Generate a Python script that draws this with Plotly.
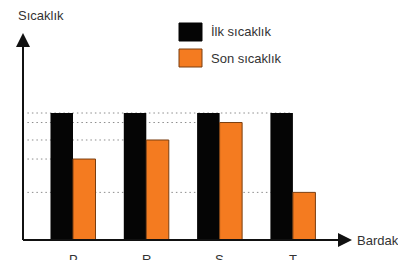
import plotly.graph_objects as go

categories = ["P", "R", "S", "T"]
ilk_sicaklik = [80, 80, 80, 80]
son_sicaklik = [51, 63, 74, 30]

series_names = ["İlk sıcaklık", "Son sıcaklık"]
y_title = "Sıcaklık"
x_title = "Bardak"

BLACK = "#050505"
ORANGE = "#F47B20"
ORANGE_EDGE = "#7A3E10"
TEXT = "#333333"

fig = go.Figure()
fig.add_trace(go.Bar(x=categories, y=ilk_sicaklik, name=series_names[0],
                     marker=dict(color=BLACK, line=dict(width=0)), showlegend=False))
fig.add_trace(go.Bar(x=categories, y=son_sicaklik, name=series_names[1],
                     marker=dict(color=ORANGE, line=dict(color=ORANGE_EDGE, width=1)), showlegend=False))

x_range = [-0.682, 3.806]
y_range = [0, 130.4]

# dotted guide lines: from the y axis to the bar they refer to
guides = []
for i, v in enumerate(son_sicaklik):
    guides.append((v, i))
guides.append((max(ilk_sicaklik), len(categories) - 1))
for v, idx in guides:
    fig.add_shape(type="line", xref="x", yref="y", x0=x_range[0] + 0.06, x1=idx,
                  y0=v, y1=v, layer="below",
                  line=dict(color="#8c8c8c", width=1, dash="1.5px,3px"))

# axes with arrows
fig.add_shape(type="line", xref="paper", yref="paper", x0=0, x1=0, y0=0, y1=0.96,
              line=dict(color="#111111", width=2))
fig.add_shape(type="line", xref="paper", yref="paper", x0=0, x1=0.96, y0=0, y1=0,
              line=dict(color="#111111", width=2))
fig.add_annotation(xref="paper", yref="paper", x=0, y=1, ax=0, ay=12,
                   text="", showarrow=True, arrowhead=2, arrowsize=1.4,
                   arrowwidth=2, arrowcolor="#111111")
fig.add_annotation(xref="paper", yref="paper", x=1, y=0, ax=-12, ay=0,
                   text="", showarrow=True, arrowhead=2, arrowsize=1.4,
                   arrowwidth=2, arrowcolor="#111111")

fig.add_annotation(xref="paper", yref="paper", x=-0.02, y=1, yshift=18,
                   text=y_title, showarrow=False, xanchor="left", yanchor="middle",
                   font=dict(size=13, color=TEXT))
fig.add_annotation(xref="paper", yref="paper", x=1, y=0, xshift=3,
                   text=x_title, showarrow=False, xanchor="left", yanchor="middle",
                   font=dict(size=13, color=TEXT))

# category labels
for c in categories:
    fig.add_annotation(xref="x", yref="paper", x=c, y=0, yshift=-10,
                       text=c, showarrow=False, xanchor="center", yanchor="top",
                       font=dict(size=13, color=TEXT))

# legend drawn manually
legend_colors = [(BLACK, None), (ORANGE, ORANGE_EDGE)]
for k, (name, (col, edge)) in enumerate(zip(series_names, legend_colors)):
    fig.add_shape(type="rect", xref="paper", yref="paper",
                  x0=(179 - 23) / 329, x1=(202 - 23) / 329,
                  y0=(260 - 41 - k * 26 - 20) / 207, y1=(260 - 23 - k * 26 - 20) / 207,
                  fillcolor=col, line=dict(color=edge if edge else col, width=1))
    fig.add_annotation(xref="paper", yref="paper", x=(209 - 23) / 329,
                       y=(260 - 32 - k * 26 - 20) / 207,
                       text=name, showarrow=False, xanchor="left", yanchor="middle",
                       font=dict(size=13, color=TEXT))

fig.update_layout(
    width=398, height=260,
    margin=dict(l=23, r=46, t=33, b=20),
    paper_bgcolor="white", plot_bgcolor="white",
    barmode="group", bargap=0.386, bargroupgap=0,
    font=dict(family="Liberation Sans, Arial, sans-serif", color=TEXT),
    xaxis=dict(range=x_range, showgrid=False, showticklabels=False, zeroline=False,
               showline=False, ticks=""),
    yaxis=dict(range=y_range, showgrid=False, showticklabels=False, zeroline=False,
               showline=False, ticks=""),
)

fig.write_html("out.html", config={"displayModeBar": False},
               post_script="document.body.style.margin='0';document.body.style.padding='0';")
